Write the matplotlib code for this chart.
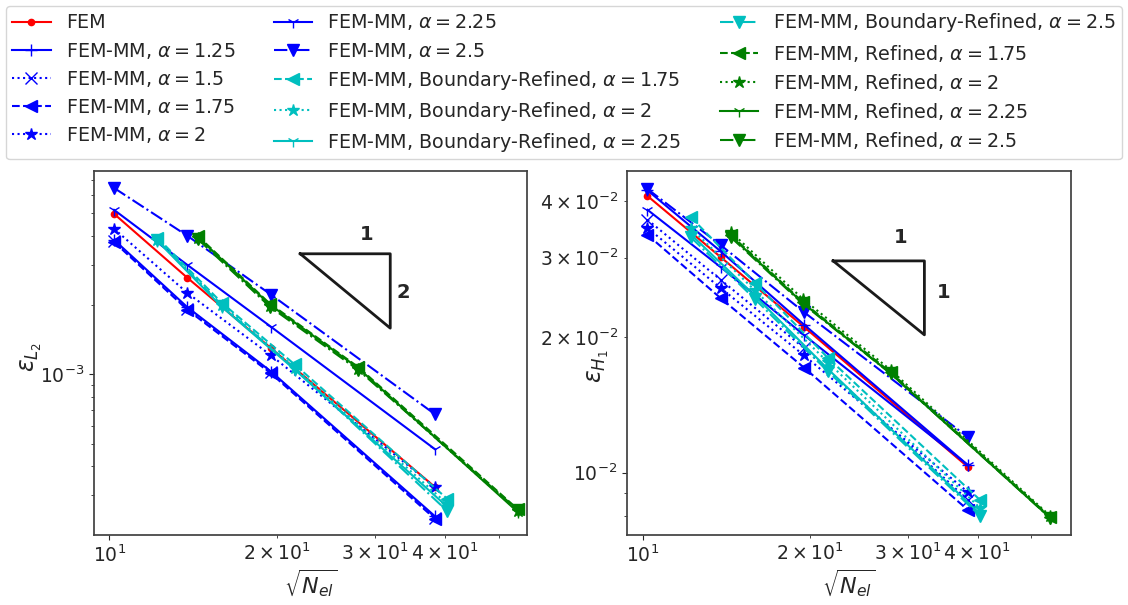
import matplotlib
matplotlib.use('Agg')
import matplotlib.pyplot as plt

plt.rcParams.update({
    'font.family': 'DejaVu Sans',
    'font.size': 13.5,
    'text.color': '.15',
    'axes.labelcolor': '.15',
    'axes.edgecolor': '.25',
    'axes.linewidth': 1.25,
    'xtick.color': '.15',
    'ytick.color': '.15',
    'xtick.labelsize': 13.5,
    'ytick.labelsize': 13.5,
    'lines.linewidth': 1.5,
    'lines.markersize': 9,
})

# ── Data ──────────────────────────────────────────────
# sqrt(N_el) for each mesh family
n_fem = [10.2, 13.8, 19.5, 38.4]      # FEM and FEM-MM
n_br = [12.2, 15.9, 21.5, 40.4]       # Boundary-Refined
n_ref = [14.4, 19.4, 27.9, 54.0]      # Refined

alpha_mm = ['1.25', '1.5', '1.75', '2', '2.25', '2.5']
alpha_ref = ['1.75', '2', '2.25', '2.5']

# L2 error
l2_fem = [4.98e-3, 2.63e-3, 1.30e-3, 3.24e-4]
l2_mm = [
    [3.84e-3, 1.96e-3, 1.03e-3, 2.42e-4],
    [3.80e-3, 1.93e-3, 1.02e-3, 2.38e-4],
    [3.76e-3, 1.91e-3, 1.01e-3, 2.36e-4],
    [4.29e-3, 2.26e-3, 1.21e-3, 3.24e-4],
    [5.18e-3, 2.99e-3, 1.61e-3, 4.73e-4],
    [6.45e-3, 4.00e-3, 2.22e-3, 6.71e-4],
]
l2_br = [
    [3.92e-3, 2.05e-3, 1.105e-3, 2.88e-4],
    [3.84e-3, 2.01e-3, 1.07e-3, 2.74e-4],
    [3.80e-3, 1.97e-3, 1.05e-3, 2.66e-4],
    [3.84e-3, 1.99e-3, 1.06e-3, 2.55e-4],
]
l2_ref = [
    [4.00e-3, 2.03e-3, 1.08e-3, 2.60e-4],
    [3.92e-3, 1.99e-3, 1.06e-3, 2.55e-4],
    [3.96e-3, 2.01e-3, 1.07e-3, 2.53e-4],
    [3.88e-3, 1.97e-3, 1.05e-3, 2.58e-4],
]

# H1 error
h1_fem = [4.11e-2, 3.01e-2, 2.105e-2, 1.03e-2]
h1_mm = [
    [4.23e-2, 3.10e-2, 2.13e-2, 1.04e-2],
    [3.64e-2, 2.68e-2, 1.89e-2, 0.870e-2],
    [3.37e-2, 2.44e-2, 1.71e-2, 0.827e-2],
    [3.49e-2, 2.57e-2, 1.82e-2, 0.906e-2],
    [3.83e-2, 2.86e-2, 2.02e-2, 1.04e-2],
    [4.26e-2, 3.20e-2, 2.27e-2, 1.20e-2],
]
h1_br = [
    [3.69e-2, 2.64e-2, 1.80e-2, 0.870e-2],
    [3.49e-2, 2.54e-2, 1.76e-2, 0.835e-2],
    [3.38e-2, 2.47e-2, 1.70e-2, 0.810e-2],
    [3.33e-2, 2.43e-2, 1.68e-2, 0.802e-2],
]
h1_ref = [
    [3.37e-2, 2.39e-2, 1.67e-2, 0.798e-2],
    [3.42e-2, 2.43e-2, 1.69e-2, 0.802e-2],
    [3.35e-2, 2.38e-2, 1.66e-2, 0.794e-2],
    [3.33e-2, 2.37e-2, 1.66e-2, 0.794e-2],
]

# ── Styles ────────────────────────────────────────────
mm_styles = [('-', '+'), (':', 'x'), ('--', '<'), (':', '*'), ('-', '1'), ('-.', 'v')]
ref_styles = [('--', '<'), (':', '*'), ('-', '1'), ('-.', 'v')]


def draw(ax, fem, mm, br, ref):
    ax.loglog(n_fem, fem, '.-', color='r', label='FEM')
    for a, y, (ls, mk) in zip(alpha_mm, mm, mm_styles):
        ax.loglog(n_fem, y, linestyle=ls, marker=mk, color='b',
                  label=rf'FEM-MM, $\alpha = {a}$')
    for a, y, (ls, mk) in zip(alpha_ref, br, ref_styles):
        ax.loglog(n_br, y, linestyle=ls, marker=mk, color='c',
                  label=rf'FEM-MM, Boundary-Refined, $\alpha = {a}$')
    for a, y, (ls, mk) in zip(alpha_ref, ref, ref_styles):
        ax.loglog(n_ref, y, linestyle=ls, marker=mk, color='g',
                  label=rf'FEM-MM, Refined, $\alpha = {a}$')


def slope_triangle(ax, x0, x1, y_top, order, top_pos, side_pos):
    y_bot = y_top * (x0 / x1) ** order
    ax.plot([x0, x1, x1, x0], [y_top, y_top, y_bot, y_top], color='.1', lw=2)
    ax.text(*top_pos, '1', fontsize=14, fontweight='bold', ha='center', va='center')
    ax.text(*side_pos, str(order), fontsize=14, fontweight='bold', ha='center', va='center')


fig = plt.figure(figsize=(11.28, 6.05), dpi=100)
ax1 = fig.add_axes([94 / 1128, 70 / 605, 433 / 1128, 364 / 605])
ax2 = fig.add_axes([627 / 1128, 70 / 605, 444 / 1128, 364 / 605])

draw(ax1, l2_fem, l2_mm, l2_br, l2_ref)
draw(ax2, h1_fem, h1_mm, h1_br, h1_ref)

slope_triangle(ax1, 22.0, 31.9, 3.34e-3, 2, (28.9, 4.04e-3), (33.6, 2.27e-3))
slope_triangle(ax2, 22.0, 32.1, 2.95e-2, 1, (29.1, 3.33e-2), (34.8, 2.51e-2))

ax1.set_xlim(9.39, 56.1)
ax1.set_ylim(2.01e-4, 7.64e-3)
ax2.set_xlim(9.37, 58.9)
ax2.set_ylim(7.27e-3, 4.67e-2)

ax1.set_ylabel(r'$\epsilon_{L_2}$', fontsize=17)
ax2.set_ylabel(r'$\epsilon_{H_1}$', fontsize=17)
ax1.yaxis.set_label_coords(-0.115, 0.49)
ax2.yaxis.set_label_coords(-0.035, 0.465)
for ax in (ax1, ax2):
    ax.set_xlabel(r'$\sqrt{N_{el}}$', fontsize=16, labelpad=1)

handles, labels = ax1.get_legend_handles_labels()
fig.legend(handles, labels, loc='upper center', ncol=3, fontsize=13.8,
           bbox_to_anchor=(0.5, 1.0), borderaxespad=0.3, labelspacing=0.42,
           borderpad=0.3)

fig.savefig('out.png', dpi=100)
